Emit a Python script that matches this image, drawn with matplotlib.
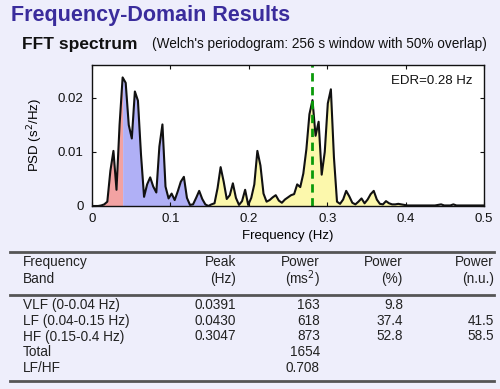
import numpy as np
import matplotlib.pyplot as plt

plt.rcParams['font.family'] = ['Liberation Sans', 'DejaVu Sans']

# spectrum, one value per bin of 1/256 Hz
psd = [
    0.0, 0.0, 0.0, 0.0001, 0.0003, 0.0008, 0.0065, 0.0102, 0.0030, 0.0150,
    0.0238, 0.0228, 0.0150, 0.0125, 0.0212, 0.0195, 0.0095, 0.0017, 0.0040, 0.0053,
    0.0036, 0.0025, 0.0110, 0.0151, 0.0036, 0.0014, 0.0023, 0.0011, 0.0027, 0.0045,
    0.0054, 0.0015, 0.0002, 0.0003, 0.0015, 0.0028, 0.0013, 0.0003, 0.0000, 0.0003,
    0.0005, 0.0033, 0.0072, 0.0045, 0.0013, 0.0020, 0.0042, 0.0015, 0.0002, 0.0009,
    0.0030, 0.0002, 0.0015, 0.0040, 0.0102, 0.0075, 0.0023, 0.0008, 0.0011, 0.0016,
    0.0020, 0.0010, 0.0006, 0.0012, 0.0016, 0.0020, 0.0022, 0.0040, 0.0035, 0.0060,
    0.0105, 0.0170, 0.0196, 0.0130, 0.0156, 0.0058, 0.0100, 0.0190, 0.0216, 0.0090,
    0.0008, 0.0004, 0.0012, 0.0028, 0.0018, 0.0006, 0.0003, 0.0008, 0.0014, 0.0005,
    0.0012, 0.0022, 0.0028, 0.0012, 0.0004, 0.0003, 0.0009, 0.0005, 0.0003, 0.0003,
    0.0004, 0.0003, 0.0002, 0.0001, 0.0001, 0.0001, 0.0001, 0.0001, 0.0001, 0.0001,
    0.0001, 0.0001, 0.0001, 0.0002, 0.0003, 0.0001, 0.0001, 0.0001, 0.0003, 0.0001,
    0.0001, 0.0001, 0.0001, 0.0001, 0.0001, 0.0001, 0.0001, 0.0001, 0.0001,
]
freq = np.arange(len(psd)) / 256.0
psd = np.array(psd)

edr = 0.28
bands = [(0.0, 0.04, '#f2a2a2'), (0.04, 0.15, '#b0b0f6'), (0.15, 0.4, '#fcf8ac')]

# results table
col_heads1 = ['Frequency', 'Peak', 'Power', 'Power', 'Power']
col_heads2 = ['Band', '(Hz)', '(ms$^2$)', '(%)', '(n.u.)']
band_names = ['VLF (0-0.04 Hz)', 'LF (0.04-0.15 Hz)', 'HF (0.15-0.4 Hz)', 'Total', 'LF/HF']
peak_hz = ['0.0391', '0.0430', '0.3047', '', '']
power_ms2 = ['163', '618', '873', '1654', '0.708']
power_pct = ['9.8', '37.4', '52.8', '', '']
power_nu = ['', '41.5', '58.5', '', '']

W, H = 500, 389
bg = '#eeeefb'
fig = plt.figure(figsize=(W / 100, H / 100), dpi=100, facecolor=bg)

def fx(x):
    return x / W

def fy(y):
    return 1 - y / H

fig.text(fx(11), fy(16), 'Frequency-Domain Results', fontsize=15.5, fontweight='bold',
         color='#3a2c9c', va='center')
fig.text(fx(22), fy(44), 'FFT spectrum', fontsize=12.5, fontweight='bold', color='#111111', va='center')
fig.text(fx(152), fy(44), "(Welch's periodogram: 256 s window with 50% overlap)", fontsize=9.8,
         color='#111111', va='center')

ax = fig.add_axes([fx(92), fy(206), fx(484) - fx(92), fy(65) - fy(206)])
ax.set_facecolor('white')

for lo, hi, col in bands:
    i0 = np.searchsorted(freq, lo, side='left')
    if i0 > 0:
        i0 -= 1
    i1 = np.searchsorted(freq, hi, side='right')
    ax.fill_between(freq[i0:i1], 0, psd[i0:i1], color=col, lw=0)
ax.plot(freq, psd, color='#111111', lw=1.5)
ax.axvline(edr, color='#0a9a0a', lw=2, ls=(0, (3, 2)))
ax.text(0.97, 0.93, 'EDR=%.2f Hz' % edr, transform=ax.transAxes, ha='right', va='top',
        fontsize=9.5, color='#111111')

ax.set_xlim(0, 0.5)
ax.set_ylim(0, 0.0261)
ax.set_xticks([0, 0.1, 0.2, 0.3, 0.4, 0.5])
ax.set_xticklabels(['0', '0.1', '0.2', '0.3', '0.4', '0.5'])
ax.set_yticks([0, 0.01, 0.02])
ax.set_yticklabels(['0', '0.01', '0.02'])
ax.tick_params(direction='in', top=True, right=True, length=3, labelsize=9.5, colors='#111111')
ax.tick_params(axis='y', pad=6)
ax.tick_params(axis='x', pad=5)
ax.set_xlabel('Frequency (Hz)', fontsize=9.5, labelpad=4)
ax.set_ylabel('PSD (s$^2$/Hz)', fontsize=9.5, labelpad=9)
for s in ax.spines.values():
    s.set_linewidth(1.0)
    s.set_color('#111111')

# table rules
for y in (252, 295, 381):
    fig.add_artist(plt.Line2D([fx(10), fx(494)], [fy(y), fy(y)], color='#555555', lw=2))

col_x = [23, 236, 320, 403, 494]
col_ha = ['left', 'right', 'right', 'right', 'right']
for j in range(5):
    fig.text(fx(col_x[j]), fy(262), col_heads1[j], ha=col_ha[j], va='center', fontsize=9.8, color='#222222')
    fig.text(fx(col_x[j]), fy(279), col_heads2[j], ha=col_ha[j], va='center', fontsize=9.8, color='#222222')

row_y = [305, 321, 336.5, 352, 367.5]
for i in range(len(band_names)):
    row = [band_names[i], peak_hz[i], power_ms2[i], power_pct[i], power_nu[i]]
    for j in range(5):
        fig.text(fx(col_x[j]), fy(row_y[i]), row[j], ha=col_ha[j], va='center', fontsize=9.8, color='#222222')

fig.savefig('out.png', dpi=100, facecolor=bg)
